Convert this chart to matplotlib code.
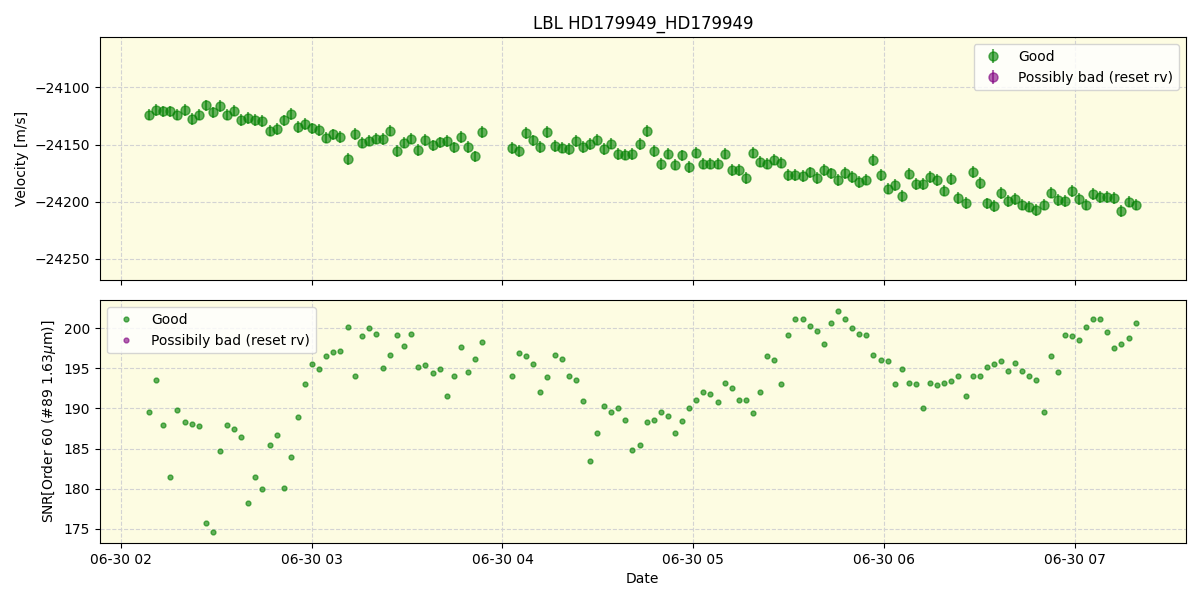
import numpy as np
import pandas as pd
import matplotlib
matplotlib.use("Agg")
import matplotlib.pyplot as plt
import matplotlib.dates as mdates

title = "LBL HD179949_HD179949"
start = pd.Timestamp("2024-06-30 02:00:00")

# minutes after 02:00
minutes = [
    8.9, 11.1, 13.3, 15.5, 17.7, 20.2, 22.4, 24.6, 26.8, 29.0,
    31.2, 33.4, 35.6, 37.8, 40.0, 42.2, 44.5, 47.0, 49.2, 51.4,
    53.6, 55.8, 58.0, 60.2, 62.4, 64.6, 66.8, 69.0, 71.5, 73.7,
    75.9, 78.1, 80.3, 82.5, 84.7, 86.9, 89.1, 91.3, 93.5, 95.7,
    98.2, 100.4, 102.7, 104.9, 107.1, 109.3, 111.5, 113.7,
    123.1, 125.3, 127.5, 129.7, 131.9, 134.1, 136.6, 138.8, 141.0, 143.2,
    145.4, 147.6, 149.8, 152.0, 154.2, 156.4, 158.7, 160.9, 163.4, 165.6,
    167.8, 170.0, 172.2, 174.4, 176.6, 178.8, 181.0, 183.2, 185.4, 187.9,
    190.1, 192.3, 194.5, 196.7, 198.9, 201.1, 203.3, 205.5, 207.7, 209.9,
    212.1, 214.6, 216.8, 219.1, 221.3, 223.5, 225.7, 227.9, 230.1, 232.3,
    234.5, 236.7, 239.2, 241.4, 243.6, 245.8, 248.0, 250.2, 252.4, 254.6,
    256.8, 259.0, 261.2, 263.4, 265.9, 268.1, 270.3, 272.5, 274.7, 276.9,
    279.1, 281.3, 283.5, 285.7, 288.0, 290.5, 292.7, 294.9, 297.1, 299.3,
    301.5, 303.7, 305.9, 308.1, 310.3, 312.5, 314.7, 317.2, 319.4,
]

velocity = [
    -24123.7, -24119.6, -24121.0, -24121.0, -24123.7, -24119.6, -24127.5, -24123.7, -24115.8, -24121.9,
    -24116.4, -24123.7, -24120.2, -24128.4, -24126.6, -24128.4, -24129.2, -24137.7, -24136.3, -24128.9,
    -24123.1, -24134.5, -24131.9, -24135.7, -24137.1, -24143.9, -24141.0, -24143.3, -24162.5, -24140.6,
    -24148.2, -24146.5, -24144.7, -24145.0, -24137.7, -24155.5, -24148.2, -24144.7, -24154.6, -24145.9,
    -24150.6, -24148.0, -24146.8, -24152.4, -24143.3, -24152.0, -24160.3, -24138.9,
    -24152.9, -24155.5, -24139.7, -24146.2, -24152.0, -24138.9, -24151.1, -24152.6, -24153.8, -24146.8,
    -24152.0, -24149.4, -24145.6, -24153.8, -24149.1, -24158.2, -24158.8, -24158.2, -24149.4, -24138.0,
    -24155.5, -24166.9, -24157.9, -24167.5, -24159.4, -24169.6, -24157.0, -24166.7, -24166.7, -24166.7,
    -24157.9, -24172.2, -24172.2, -24179.2, -24157.0, -24164.9, -24166.7, -24163.2, -24165.8, -24176.6,
    -24176.6, -24177.5, -24174.3, -24179.2, -24172.2, -24175.2, -24181.0, -24174.8, -24178.3, -24182.7,
    -24180.7, -24163.4, -24176.6, -24188.6, -24185.4, -24195.0, -24175.5, -24184.5, -24184.5, -24178.3,
    -24181.0, -24190.4, -24180.1, -24196.8, -24201.1, -24173.9, -24183.6, -24201.5, -24203.8, -24192.4,
    -24199.4, -24197.6, -24202.6, -24204.4, -24207.3, -24202.6, -24192.1, -24198.5, -24199.4, -24190.6,
    -24197.6, -24202.6, -24193.2, -24195.9, -24195.9, -24196.8, -24208.2, -24200.0, -24202.6,
]

velocity_err = [5.0] * len(velocity)

snr = [
    189.6, 193.6, 188.0, 181.4, 189.8, 188.3, 188.1, 187.8, 175.7, 174.6,
    184.7, 187.9, 187.4, 186.5, 178.2, 181.4, 179.9, 185.4, 186.7, 180.1,
    183.9, 188.9, 193.0, 195.5, 194.9, 196.6, 197.1, 197.2, 200.2, 194.0,
    199.0, 200.0, 199.3, 195.1, 196.7, 199.2, 197.8, 199.3, 195.2, 195.4,
    194.4, 194.9, 191.5, 194.0, 197.7, 194.5, 196.2, 198.3,
    194.1, 196.9, 196.6, 195.6, 192.0, 193.9, 196.7, 196.2, 194.1, 193.6,
    190.9, 183.5, 187.0, 190.3, 189.5, 190.1, 188.6, 184.8, 185.5, 188.3,
    188.6, 189.5, 189.1, 187.0, 188.4, 190.0, 191.0, 192.0, 191.8, 190.8,
    193.2, 192.5, 191.0, 191.0, 189.4, 192.0, 196.6, 196.0, 193.1, 199.1,
    201.2, 201.1, 200.3, 199.6, 198.1, 200.6, 202.1, 201.2, 200.0, 199.3,
    199.1, 196.7, 196.1, 195.9, 193.1, 194.9, 193.2, 193.1, 190.0, 193.2,
    192.9, 193.2, 193.4, 194.1, 191.5, 194.1, 194.1, 195.2, 195.5, 195.9,
    194.7, 195.7, 194.7, 194.1, 193.5, 189.5, 196.6, 194.6, 199.1, 199.0,
    198.6, 200.2, 201.2, 201.2, 199.5, 197.5, 198.0, 198.8, 200.6,
]

times = start + pd.to_timedelta(minutes, unit="min")
bg = "#fdfce2"

fig, (ax1, ax2) = plt.subplots(2, 1, figsize=(12, 6), dpi=100, sharex=True)
fig.subplots_adjust(left=0.0833, right=0.988, top=0.938, bottom=0.095, hspace=0.085)

# velocity panel
ax1.set_facecolor(bg)
ax1.errorbar(times, velocity, yerr=velocity_err, fmt="o", color="green",
             ecolor="green", alpha=0.6, markersize=6.5, label="Good")
ax1.errorbar([], [], yerr=[], fmt="o", color="purple", alpha=0.6,
             markersize=6.5, label="Possibly bad (reset rv)")
ax1.set_ylim(-24268.4, -24056)
ax1.set_ylabel("Velocity [m/s]")
ax1.set_title(title)
ax1.grid(True, linestyle="--", color="lightgray")
ax1.legend(loc="upper right")

# snr panel
ax2.set_facecolor(bg)
ax2.plot(times, snr, "o", color="green", alpha=0.6, markersize=3.5, label="Good")
ax2.plot([], [], "o", color="purple", alpha=0.6, markersize=3.5,
         label="Possibily bad (reset rv)")
ax2.set_ylabel(r"SNR[Order 60 (#89 1.63$\mu$m)]")
ax2.set_xlabel("Date")
ax2.grid(True, linestyle="--", color="lightgray")
ax2.legend(loc="upper left")

ax2.xaxis.set_major_locator(mdates.HourLocator())
ax2.xaxis.set_major_formatter(mdates.DateFormatter("%m-%d %H"))

fig.savefig("out.png")
